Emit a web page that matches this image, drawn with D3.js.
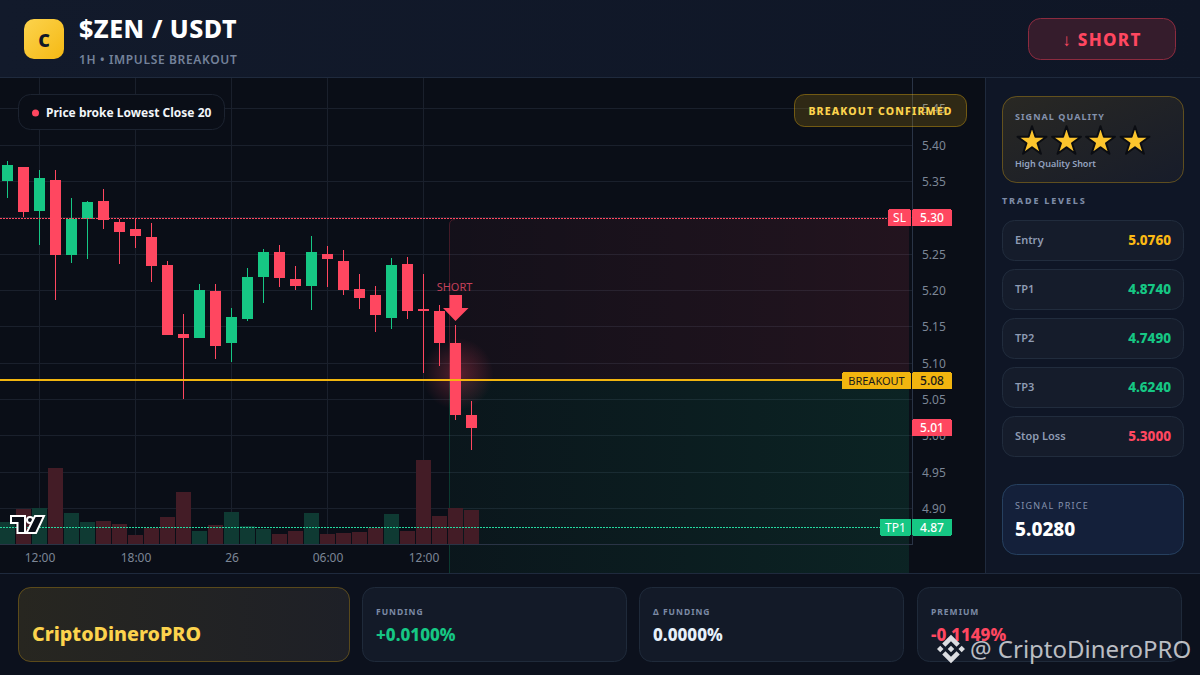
<!DOCTYPE html>
<html>
<head>
<meta charset="utf-8">
<script src="https://cdn.jsdelivr.net/npm/d3@7"></script>
<style>
    html, body { margin: 0; padding: 0; background: #0b101b; overflow: hidden; }
    svg { display: block; font-family: "Noto Sans", sans-serif; }
    text { dominant-baseline: central; }
</style>
</head>
<body>
<div id="chart"></div>
<script>
// hourly candles
const opens  = [5.351, 5.370, 5.309, 5.352, 5.249, 5.298, 5.323, 5.294, 5.285, 5.274, 5.235, 5.140, 5.135, 5.199, 5.128, 5.160, 5.219, 5.253, 5.216, 5.206, 5.250, 5.241, 5.202, 5.193, 5.162, 5.237, 5.175, 5.171, 5.128, 5.028];
const highs  = [5.378, 5.370, 5.366, 5.366, 5.327, 5.323, 5.340, 5.298, 5.298, 5.293, 5.241, 5.168, 5.209, 5.209, 5.176, 5.231, 5.257, 5.263, 5.234, 5.275, 5.261, 5.256, 5.223, 5.206, 5.245, 5.246, 5.223, 5.180, 5.153, 5.048];
const lows   = [5.327, 5.301, 5.263, 5.187, 5.238, 5.243, 5.285, 5.237, 5.259, 5.212, 5.139, 5.050, 5.135, 5.105, 5.102, 5.158, 5.182, 5.205, 5.201, 5.173, 5.205, 5.194, 5.175, 5.143, 5.147, 5.160, 5.087, 5.096, 5.022, 4.980];
const closes = [5.373, 5.308, 5.355, 5.249, 5.298, 5.322, 5.297, 5.280, 5.275, 5.234, 5.139, 5.134, 5.201, 5.124, 5.164, 5.219, 5.253, 5.217, 5.206, 5.253, 5.243, 5.201, 5.190, 5.166, 5.235, 5.171, 5.172, 5.128, 5.028, 5.011];
const volumes = [22, 35, 36, 76, 31, 22, 23, 20, 9, 16, 27, 52, 13, 19, 32, 18, 15, 10, 13, 31, 10, 11, 12, 16, 30, 13, 84, 28, 36, 34];

const priceTicks = [5.45, 5.40, 5.35, 5.30, 5.25, 5.20, 5.15, 5.10, 5.05, 5.00, 4.95, 4.90];
const timeTickIndex = [2, 8, 14, 20, 26];
const timeTickLabels = ['12:00', '18:00', '26', '06:00', '12:00'];

const entryPrice = 5.076;
const stopPrice = 5.30;
const tp1Price = 4.874;
const lastPrice = 5.011;
const signalIndex = 28;

const levelNames = ['Entry', 'TP1', 'TP2', 'TP3', 'Stop Loss'];
const levelValues = ['5.0760', '4.8740', '4.7490', '4.6240', '5.3000'];
const levelColors = ['#fbb914', '#16c784', '#16c784', '#16c784', '#ff4760'];

const statNames = ['FUNDING', 'Δ FUNDING', 'PREMIUM'];
const statValues = ['+0.0100%', '0.0000%', '-0.1149%'];
const statColors = ['#16c784', '#e6f0fa', '#ff4760'];

const GREEN = '#16c784', RED = '#ff4760', GOLD = '#f2b50f';

const svg = d3.select('#chart').append('svg').attr('width', 1200).attr('height', 675);
const defs = svg.append('defs');

function gradient(id, x2, y2, stops) {
    const g = defs.append('linearGradient').attr('id', id)
        .attr('x1', 0).attr('y1', 0).attr('x2', x2).attr('y2', y2);
    stops.forEach(s => g.append('stop').attr('offset', s[0]).attr('stop-color', s[1]).attr('stop-opacity', s[2]));
}
gradient('logoFill', 1, 1, [[0, '#fcd34d', 1], [1, '#f5b914', 1]]);
gradient('redZone', 1, 0, [[0, RED, 0.04], [1, RED, 0.1]]);
gradient('greenZone', 1, 0, [[0, GREEN, 0.045], [1, GREEN, 0.115]]);
gradient('headerFill', 1, 0, [[0, '#121a2b', 1], [1, '#0f1626', 1]]);
gradient('qualityFill', 1, 1, [[0, '#292823', 1], [1, '#171c2a', 1]]);
gradient('brandFill', 1, 0, [[0, '#272620', 1], [1, '#1e2027', 1]]);

const glow = defs.append('radialGradient').attr('id', 'glow');
glow.append('stop').attr('offset', 0).attr('stop-color', RED).attr('stop-opacity', 0.3);
glow.append('stop').attr('offset', 0.55).attr('stop-color', RED).attr('stop-opacity', 0.14);
glow.append('stop').attr('offset', 1).attr('stop-color', RED).attr('stop-opacity', 0);

function box(parent, x, y, w, h, r, fill, stroke) {
    return parent.append('rect').attr('x', x + 0.5).attr('y', y + 0.5)
        .attr('width', w - 1).attr('height', h - 1).attr('rx', r)
        .attr('fill', fill).attr('stroke', stroke || 'none');
}
function label(parent, x, y, str, size, weight, color, anchor, spacing) {
    return parent.append('text').attr('x', x).attr('y', y).text(str)
        .attr('font-size', size).attr('font-weight', weight).attr('fill', color)
        .attr('text-anchor', anchor || 'start')
        .attr('letter-spacing', spacing || 0);
}

// page regions
svg.append('rect').attr('width', 1200).attr('height', 675).attr('fill', '#0c111d');
svg.append('rect').attr('y', 78).attr('width', 985).attr('height', 495).attr('fill', '#0a0e17');
svg.append('rect').attr('x', 985).attr('y', 78).attr('width', 215).attr('height', 495).attr('fill', '#0f1626');
svg.append('rect').attr('width', 1200).attr('height', 78).attr('fill', 'url(#headerFill)');
const frame = svg.append('g').attr('stroke', '#1f2a3d').attr('shape-rendering', 'crispEdges');
frame.append('line').attr('x1', 0).attr('x2', 1200).attr('y1', 77.5).attr('y2', 77.5);
frame.append('line').attr('x1', 0).attr('x2', 1200).attr('y1', 573.5).attr('y2', 573.5);
frame.append('line').attr('x1', 985.5).attr('x2', 985.5).attr('y1', 78).attr('y2', 573);

// scales
const x = d3.scaleLinear().domain([0, 29]).range([7.5, 471.5]);
const y = d3.scaleLinear().domain([4.90, 5.40]).range([508.5, 145]);
const v = d3.scaleLinear().domain([0, 84]).range([544, 460]);

// grid
const grid = svg.append('g').attr('stroke', '#1a202c').attr('shape-rendering', 'crispEdges');
grid.selectAll('.h').data(priceTicks).enter().append('line').attr('class', 'h')
    .attr('x1', 0).attr('x2', 912).attr('y1', d => y(d)).attr('y2', d => y(d));
grid.selectAll('.v').data(timeTickIndex).enter().append('line').attr('class', 'v')
    .attr('x1', d => x(d)).attr('x2', d => x(d)).attr('y1', 78).attr('y2', 544);

// projected risk and reward zones
const zoneLeft = 449, zoneRight = 909;
const zoneTop = Math.round(y(stopPrice)) + 1, zoneMid = Math.floor(y(entryPrice));
svg.append('path')
    .attr('d', `M${zoneLeft},${zoneMid}V${zoneTop + 6}Q${zoneLeft},${zoneTop} ${zoneLeft + 6},${zoneTop}H${zoneRight}V${zoneMid}Z`)
    .attr('fill', 'url(#redZone)');
svg.append('rect').attr('x', zoneLeft).attr('y', zoneMid).attr('width', zoneRight - zoneLeft)
    .attr('height', 573 - zoneMid).attr('fill', 'url(#greenZone)');
svg.append('path').attr('fill', 'none').attr('stroke', RED).attr('stroke-opacity', 0.2)
    .attr('d', `M${zoneLeft + 0.5},${zoneMid}V${zoneTop + 6}Q${zoneLeft + 0.5},${zoneTop + 0.5} ${zoneLeft + 6},${zoneTop + 0.5}`);
svg.append('line').attr('x1', zoneLeft + 0.5).attr('x2', zoneLeft + 0.5).attr('y1', zoneMid).attr('y2', 573)
    .attr('stroke', GREEN).attr('stroke-opacity', 0.2);

// volume
svg.append('g').attr('shape-rendering', 'crispEdges').selectAll('rect')
    .data(volumes).enter().append('rect')
    .attr('x', (d, i) => x(i) - 7.5).attr('width', 15)
    .attr('y', d => v(d)).attr('height', d => 544 - v(d))
    .attr('fill', (d, i) => closes[i] >= opens[i] ? '#0f3a33' : '#431c26');

// axes
const priceAxis = d3.axisRight(y).tickValues(priceTicks).tickSize(0).tickPadding(10).tickFormat(d3.format('.2f'));
const yAxisG = svg.append('g').attr('transform', 'translate(912,0)').call(priceAxis);
const timeAxis = d3.axisBottom(x).tickValues(timeTickIndex).tickSize(0).tickPadding(7)
    .tickFormat((d, i) => timeTickLabels[i]);
const xAxisG = svg.append('g').attr('transform', 'translate(0,545)').call(timeAxis);
[yAxisG, xAxisG].forEach(g => {
    g.select('.domain').remove();
    g.selectAll('text').attr('font-size', 12).attr('font-family', '"Noto Sans"').attr('fill', '#7c8696').attr('dy', null);
});
yAxisG.selectAll('text').attr('dy', -0.5);
xAxisG.selectAll('text').attr('y', 12);
const axisLines = svg.append('g').attr('stroke', '#2a3446').attr('shape-rendering', 'crispEdges');
axisLines.append('line').attr('x1', 912.5).attr('x2', 912.5).attr('y1', 78).attr('y2', 545);
axisLines.append('line').attr('x1', 0).attr('x2', 912).attr('y1', 544.5).attr('y2', 544.5);

// glow behind the breakout candle
svg.append('circle').attr('cx', x(signalIndex) + 2).attr('cy', 374).attr('r', 36).attr('fill', 'url(#glow)');

// candles
const candles = svg.append('g').attr('shape-rendering', 'crispEdges');
candles.selectAll('line').data(opens).enter().append('line')
    .attr('x1', (d, i) => x(i)).attr('x2', (d, i) => x(i))
    .attr('y1', (d, i) => y(highs[i])).attr('y2', (d, i) => y(lows[i]))
    .attr('stroke', (d, i) => closes[i] >= d ? GREEN : RED);
candles.selectAll('rect').data(opens).enter().append('rect')
    .attr('x', (d, i) => x(i) - 5.5).attr('width', 11)
    .attr('y', (d, i) => y(Math.max(d, closes[i])))
    .attr('height', (d, i) => Math.max(1, Math.abs(y(d) - y(closes[i]))))
    .attr('fill', (d, i) => closes[i] >= d ? GREEN : RED);

// signal marker
const sx = x(signalIndex);
label(svg, sx - 1, 286, 'SHORT', 11, 400, '#c4405a', 'middle');
svg.append('path')
    .attr('d', `M${sx - 6},295H${sx + 6.5}V308H${sx + 13}L${sx},321L${sx - 12.5},308H${sx - 6}Z`)
    .attr('fill', RED);

// price lines
svg.append('line').attr('x1', 0).attr('x2', 888).attr('y1', Math.round(y(stopPrice)) + 0.5).attr('y2', Math.round(y(stopPrice)) + 0.5)
    .attr('stroke', RED).attr('stroke-dasharray', '2 1').attr('shape-rendering', 'crispEdges');
svg.append('line').attr('x1', 0).attr('x2', 880).attr('y1', Math.floor(y(tp1Price)) + 0.5).attr('y2', Math.floor(y(tp1Price)) + 0.5)
    .attr('stroke', '#25d9a0').attr('stroke-dasharray', '2 1').attr('shape-rendering', 'crispEdges');
svg.append('line').attr('x1', 0).attr('x2', 842).attr('y1', zoneMid).attr('y2', zoneMid)
    .attr('stroke', GOLD).attr('stroke-width', 2).attr('shape-rendering', 'crispEdges');

// price tags on the axis
function priceTag(price, color, text, tagX, textColor, size) {
    const cy = y(price);
    svg.append('rect').attr('x', 912).attr('y', cy - 8.5).attr('width', 40).attr('height', 17).attr('rx', 2)
        .attr('fill', color).attr('shape-rendering', 'crispEdges');
    label(svg, 932, cy, price.toFixed(2), 12, 500, textColor, 'middle');
    if (text) {
        svg.append('rect').attr('x', tagX).attr('y', cy - 8.5).attr('width', 911 - tagX).attr('height', 17).attr('rx', 2)
            .attr('fill', color).attr('shape-rendering', 'crispEdges');
        label(svg, (tagX + 911) / 2, cy, text, size, 400, textColor, 'middle');
    }
}
priceTag(stopPrice, RED, 'SL', 888, '#fff', 12);
priceTag(entryPrice, GOLD, 'BREAKOUT', 842, '#1a1a1a', 11);
priceTag(lastPrice, RED, null, 0, '#fff', 12);
priceTag(tp1Price, GREEN, 'TP1', 880, '#fff', 12);

// chart badges
box(svg, 18, 94, 207, 36, 12, '#0a0e17', '#1c2330');
svg.append('circle').attr('cx', 35.5).attr('cy', 113).attr('r', 3.5).attr('fill', RED);
label(svg, 46, 112.5, 'Price broke Lowest Close 20', 12, 700, '#f1f5f9');
box(svg, 794, 94, 173, 33, 10, 'rgba(245,185,15,0.16)', 'rgba(245,185,15,0.4)');
label(svg, 880.5, 110.5, 'BREAKOUT CONFIRMED', 10.5, 800, '#fcd34d', 'middle', 1.15);

// TradingView mark
const tv = svg.append('g').attr('transform', 'translate(10,515)')
    .attr('fill', '#0a0e17').attr('stroke', '#fff').attr('stroke-width', 2);
tv.append('path').attr('d', 'M1,1H15V18H7.5V8H1Z');
tv.append('circle').attr('cx', 20).attr('cy', 5).attr('r', 3);
tv.append('path').attr('d', 'M25,1H34L26,18H16.5Z');

// header
svg.append('rect').attr('x', 24).attr('y', 19).attr('width', 40).attr('height', 40).attr('rx', 10).attr('fill', 'url(#logoFill)');
label(svg, 44, 39.5, 'C', 18, 900, '#111827', 'middle');
label(svg, 79, 28, '$ZEN / USDT', 25, 800, '#ffffff', 'start', 0.5);
label(svg, 79, 59.5, '1H • IMPULSE BREAKOUT', 12, 600, '#74829a', 'start', 0.65);
box(svg, 1028, 18, 148, 42, 12, '#351c2c', '#8c2b3f');
const shortText = label(svg, 1102, 39, '', 17, 800, RED, 'middle', 1.3);
shortText.append('tspan').attr('font-weight', 400).text('↓ ');
shortText.append('tspan').text('SHORT');

// signal quality card
box(svg, 1002, 96, 182, 87, 14, 'url(#qualityFill)', 'rgba(245,185,15,0.33)');
label(svg, 1015, 116, 'SIGNAL QUALITY', 9, 700, '#8492ad', 'start', 1.05);
const starPath = d3.symbol().type(d3.symbolStar).size(260)();
svg.selectAll('.star').data([1032, 1066.5, 1100.5, 1135]).enter().append('path').attr('class', 'star')
    .attr('d', starPath).attr('transform', d => `translate(${d},141.5)`)
    .attr('fill', '#fcc52d').attr('stroke', '#0b0d12').attr('stroke-width', 2).attr('stroke-linejoin', 'round');
label(svg, 1015, 163, 'High Quality Short', 9, 600, '#94a3c0');
label(svg, 1002, 200, 'TRADE LEVELS', 9, 800, '#7c8aa5', 'start', 1.8);

// trade levels
levelNames.forEach((name, i) => {
    const top = 220 + i * 49;
    box(svg, 1002, top, 182, 41, 12, '#151c2b', '#212c3d');
    label(svg, 1015, top + 19.5, name, 11, 600, '#8e9bb3');
    label(svg, 1171, top + 20, levelValues[i], 13.5, 800, levelColors[i], 'end');
});

// signal price
box(svg, 1002, 484, 182, 71, 14, '#14203a', '#26405f');
label(svg, 1015, 505, 'SIGNAL PRICE', 9, 400, '#8492ad', 'start', 1.25);
label(svg, 1015, 529, '5.0280', 19, 800, '#ffffff');

// footer cards
box(svg, 18, 587, 332, 75, 12, 'url(#brandFill)', 'rgba(245,185,15,0.3)');
label(svg, 32, 633, 'CriptoDineroPRO', 19.7, 800, '#fcd34d');
const statLeft = [362, 639, 917];
statNames.forEach((name, i) => {
    box(svg, statLeft[i], 587, 265, 75, 12, '#131a28', '#1f2a3a');
    label(svg, statLeft[i] + 14, 611, name, 8.5, 700, '#7c8aa5', 'start', 1);
    label(svg, statLeft[i] + 14, 634, statValues[i], 17, 800, statColors[i]);
});

// watermark
const mark = svg.append('g').attr('transform', 'translate(937,635) scale(0.222)').attr('fill', '#dcdde1');
mark.append('path').attr('d', 'M38,53L63,28L88,53L102.7,38.5L63,-1L23.5,38.5Z');
mark.append('path').attr('d', 'M38,73L63,98L88,73L102.7,87.5L63,127L23.5,87.5Z');
mark.append('path').attr('d', 'M0,63L14.7,48.3L29.4,63L14.7,77.7Z');
mark.append('path').attr('d', 'M96.6,63L111.3,48.3L126,63L111.3,77.7Z');
mark.append('path').attr('d', 'M48.3,63L63,48.3L77.7,63L63,77.7Z');
label(svg, 970, 648, '@ CriptoDineroPRO', 24, 400, 'rgba(235,236,240,0.78)');
</script>
</body>
</html>
